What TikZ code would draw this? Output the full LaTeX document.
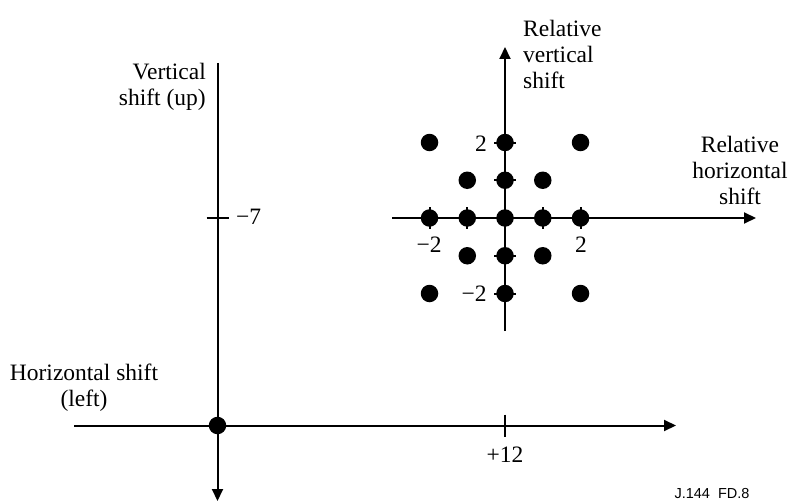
\documentclass[tikz,border=0pt]{standalone}
\usepackage{fontspec}
\setmainfont{Liberation Serif}
\newfontfamily\labelsans{Liberation Sans}
\usetikzlibrary{arrows.meta}
\begin{document}
\begin{tikzpicture}[x=1pt,y=-1pt,
  axis/.style={line width=2pt,draw=black},
  axarrow/.style={axis,-{Triangle[length=12pt,width=11pt]}},
  tickmark/.style={line width=2pt,draw=black},
  dot/.style={circle,fill=black,inner sep=0pt,minimum size=17.5pt},
  lbl/.style={font=\fontsize{23.5}{26}\selectfont,inner sep=0pt},
  num/.style={font=\fontsize{23.5}{26}\selectfont,inner sep=0pt}]
\useasboundingbox (0,0) rectangle (790,503);
% main axes
\coordinate (vtop) at (217.5,63);
\coordinate (vbot) at (217.5,501);
\coordinate (hleft) at (74,425.5);
\coordinate (hright) at (676,425.5);
\draw[axarrow] (vtop) -- (vbot);
\draw[axarrow] (hleft) -- (hright);
\node[dot] (origin) at (217.5,425.5) {};
\coordinate (t7) at (217.5,218);
\draw[tickmark] ([xshift=-11pt]t7) -- ([xshift=11pt]t7);
\coordinate (t12) at (505,425.5);
\draw[tickmark] ([yshift=11pt]t12) -- ([yshift=-11pt]t12);
\node[num,anchor=west] (m7) at (236,217) {−7};
\node[num] (p12) at (505,455) {+12};
% relative axes
\coordinate (rvbot) at (505,331);
\coordinate (rvtop) at (505,47);
\coordinate (rhleft) at (392,218);
\coordinate (rhright) at (756,218);
\draw[axarrow] (rvbot) -- (rvtop);
\draw[axarrow] (rhleft) -- (rhright);
% ticks
\foreach \i in {-2,-1,1,2}{
  \coordinate (hx\i) at ({505+37.75*\i},218);
  \draw[tickmark] ([yshift=11pt]hx\i) -- ([yshift=-11pt]hx\i);
  \coordinate (vy\i) at (505,{218+37.75*\i});
  \draw[tickmark] ([xshift=-11pt]vy\i) -- ([xshift=11pt]vy\i);
}
% dots
\foreach \i/\j in {-2/-2,0/-2,2/-2,-1/-1,0/-1,1/-1,-2/0,-1/0,0/0,1/0,2/0,-1/1,0/1,1/1,-2/2,0/2,2/2}{
  \node[dot] (d\i\j) at ({505+37.75*\i},{218+37.75*\j}) {};
}
% numbers
\node[num] (n2t) at (481,143.5) {2};
\node[num] (nm2l) at (429,245) {−2};
\node[num] (n2r) at (581,245) {2};
\node[num] (nm2b) at (474,294) {−2};
% labels
\node[lbl,align=right,anchor=east] (vlab) at (206,87) {Vertical\\shift (up)};
\node[lbl,align=center] (hlab) at (84,388) {Horizontal shift\\(left)};
\node[lbl,align=left,anchor=west] (rvlab) at (523,54) {Relative\\vertical\\shift};
\node[lbl,align=center] (rhlab) at (740,170) {Relative\\horizontal\\shift};
\node[font=\labelsans\fontsize{14.5}{17}\selectfont,inner sep=0pt] (fig) at (712,494) {J.144\ \ FD.8};
\end{tikzpicture}
\end{document}
